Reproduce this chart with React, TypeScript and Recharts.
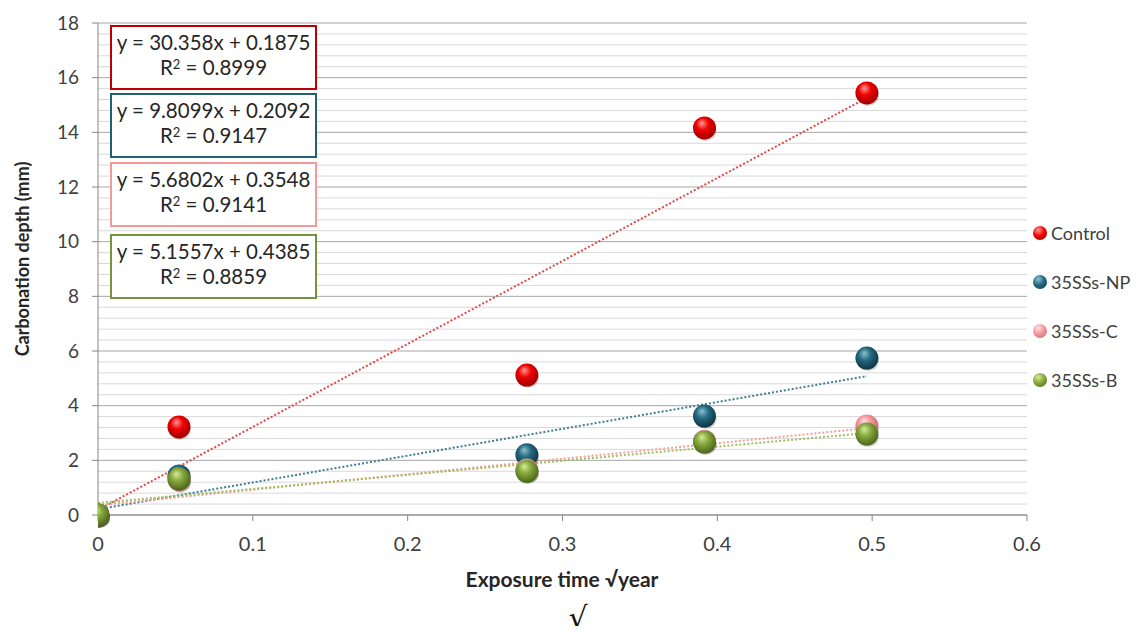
import React from 'react';
import {
  ScatterChart, Scatter, XAxis, YAxis, CartesianGrid, ReferenceLine,
} from 'recharts';

// ---- data ----
const exposureTime = [0, 0.0523, 0.277, 0.3917, 0.4966];
const controlDepth = [0, 3.22, 5.12, 14.16, 15.44];
const npDepth = [0, 1.43, 2.2, 3.62, 5.74];
const cDepth = [0, 1.3, 1.65, 2.7, 3.26];
const bDepth = [0, 1.32, 1.6, 2.67, 2.96];

const seriesNames = ['Control', '35SSs-NP', '35SSs-C', '35SSs-B'];
const trendSlopes = [30.358, 9.8099, 5.6802, 5.1557];
const trendIntercepts = [0.1875, 0.2092, 0.3548, 0.4385];
const trendR2 = ['0.8999', '0.9147', '0.9141', '0.8859'];
const equationLabels = [
  'y = 30.358x + 0.1875',
  'y = 9.8099x + 0.2092',
  'y = 5.6802x + 0.3548',
  'y = 5.1557x + 0.4385',
];

const xTicks = [0, 0.1, 0.2, 0.3, 0.4, 0.5, 0.6];
const yTicks = [0, 2, 4, 6, 8, 10, 12, 14, 16, 18];
const yMinor = [0.4, 0.8, 1.2, 1.6, 2.4, 2.8, 3.2, 3.6, 4.4, 4.8, 5.2, 5.6, 6.4, 6.8, 7.2, 7.6,
  8.4, 8.8, 9.2, 9.6, 10.4, 10.8, 11.2, 11.6, 12.4, 12.8, 13.2, 13.6, 14.4, 14.8, 15.2, 15.6,
  16.4, 16.8, 17.2, 17.6];

// ---- styles ----
const ballStops = [
  ['#ff9a9a', '#f00000', '#9c0000'],
  ['#8fc0d0', '#246a82', '#0e3442'],
  ['#ffe0e2', '#f3979c', '#c46870'],
  ['#d4eb9a', '#86a83c', '#4a661a'],
];
const lineColors = ['#e04848', '#3d7f92', '#f2a0a0', '#a2bd5e'];
const boxColors = ['#c00000', '#215f72', '#f4999b', '#77933c'];
const ids = ['ctrl', 'np', 'c', 'b'];
const FONT = 'Lato, "Open Sans", sans-serif';

const allDepths = [controlDepth, npDepth, cDepth, bDepth];
const pointData = allDepths.map((d) => exposureTime.map((x, i) => ({ x, y: d[i] })));
const xMax = exposureTime[exposureTime.length - 1];
const trendData = trendSlopes.map((m, i) => [
  { x: 0, y: trendIntercepts[i] },
  { x: xMax, y: m * xMax + trendIntercepts[i] },
]);

const makeBall = (idx: number) => (props: any) => {
  const { cx, cy } = props;
  if (cx == null || cy == null) return <g />;
  return (
    <g>
      <ellipse cx={cx + 1} cy={cy + 3} rx={11} ry={10} fill="#000" opacity={0.18} />
      <circle cx={cx} cy={cy} r={11.5} fill={`url(#ball-${ids[idx]})`} />
    </g>
  );
};

const noShape = () => <g />;

const boxTops = [25, 93, 162, 234];

export default function App() {
  return (
    <div
      style={{
        position: 'relative',
        width: 1140,
        height: 634,
        margin: -8,
        overflow: 'hidden',
        fontFamily: FONT,
      }}
    >
      <ScatterChart
        width={1140}
        height={634}
        margin={{ top: 23, right: 113, bottom: 59, left: 48 }}
      >
        <defs>
          {ids.map((id, i) => (
            <radialGradient key={id} id={`ball-${id}`} cx="45%" cy="40%" r="60%" fx="38%" fy="28%">
              <stop offset="0%" stopColor={ballStops[i][0]} />
              <stop offset="45%" stopColor={ballStops[i][1]} />
              <stop offset="100%" stopColor={ballStops[i][2]} />
            </radialGradient>
          ))}
        </defs>
        {yMinor.map((v) => (
          <ReferenceLine key={v} y={v} stroke="#d9d9d9" strokeWidth={1} ifOverflow="hidden" />
        ))}
        <CartesianGrid vertical={false} stroke="#a6a6a6" strokeWidth={1} />
        <XAxis
          type="number"
          dataKey="x"
          domain={[0, 0.6]}
          ticks={xTicks}
          allowDataOverflow
          height={60}
          tickSize={6}
          tickMargin={16}
          stroke="#868686"
          tick={{ fill: '#404040', fontSize: 20, fontFamily: FONT }}
        />
        <YAxis
          type="number"
          dataKey="y"
          domain={[0, 18]}
          ticks={yTicks}
          width={50}
          tickSize={6}
          tickMargin={13}
          stroke="#868686"
          tick={{ fill: '#404040', fontSize: 19, fontFamily: FONT }}
        />
        {trendData.map((d, i) => (
          <Scatter
            key={`t-${i}`}
            data={d}
            line={{ stroke: lineColors[i], strokeWidth: 2, strokeDasharray: '2 2' }}
            shape={noShape}
            legendType="none"
            isAnimationActive={false}
          />
        ))}
        {pointData.map((d, i) => (
          <Scatter
            key={`s-${i}`}
            name={seriesNames[i]}
            data={d}
            shape={makeBall(i)}
            isAnimationActive={false}
          />
        ))}
      </ScatterChart>

      {/* equation boxes */}
      {equationLabels.map((eq, i) => (
        <div
          key={eq}
          style={{
            position: 'absolute',
            left: 110,
            top: boxTops[i],
            width: 203,
            height: 58,
            border: `2px solid ${boxColors[i]}`,
            background: '#fff',
            color: '#262626',
            fontSize: 20.5,
            lineHeight: '25px',
            textAlign: 'center',
            paddingTop: 3,
            boxSizing: 'content-box',
            whiteSpace: 'nowrap',
          }}
        >
          <div>{eq}</div>
          <div>
            R<sup style={{ fontSize: 13, verticalAlign: '6px', lineHeight: 0 }}>2</sup> = {trendR2[i]}
          </div>
        </div>
      ))}

      {/* legend */}
      {seriesNames.map((n, i) => (
        <div
          key={n}
          style={{
            position: 'absolute',
            left: 1033,
            top: 233 + i * 49 - 13,
            height: 26,
            display: 'flex',
            alignItems: 'center',
            fontSize: 18,
            color: '#404040',
            whiteSpace: 'nowrap',
          }}
        >
          <span
            style={{
              display: 'inline-block',
              width: 14,
              height: 14,
              borderRadius: '50%',
              marginRight: 4,
              flex: 'none',
              background: `radial-gradient(circle at 38% 30%, ${ballStops[i][0]} 0%, ${ballStops[i][1]} 45%, ${ballStops[i][2]} 100%)`,
            }}
          />
          {n}
        </div>
      ))}

      {/* axis titles */}
      <div
        style={{
          position: 'absolute',
          left: 22,
          top: 259,
          transform: 'translate(-50%, -50%) rotate(-90deg)',
          whiteSpace: 'nowrap',
          fontWeight: 700,
          fontSize: 18,
          color: '#262626',
        }}
      >
        Carbonation depth (mm)
      </div>
      <div
        style={{
          position: 'absolute',
          left: 562,
          top: 578,
          transform: 'translate(-50%, -50%)',
          whiteSpace: 'nowrap',
          fontWeight: 700,
          fontSize: 21,
          color: '#262626',
        }}
      >
        Exposure time √year
      </div>
      <div
        style={{
          position: 'absolute',
          left: 578,
          top: 618,
          transform: 'translate(-50%, -50%)',
          fontSize: 30,
          lineHeight: '30px',
          fontFamily: '"DejaVu Serif", serif',
          color: '#111',
        }}
      >
        √
      </div>
    </div>
  );
}
